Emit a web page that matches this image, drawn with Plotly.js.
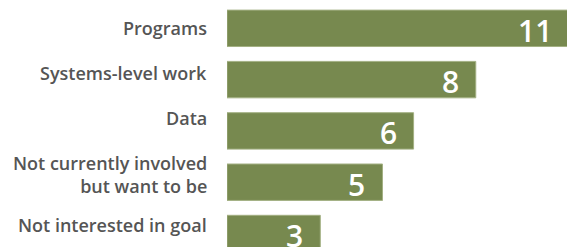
<!DOCTYPE html>
<html>
<head>
<meta charset="utf-8">
<script src="https://cdn.plot.ly/plotly-3.0.1.min.js"></script>
<style>html,body{margin:0;padding:0;background:#fff;overflow:hidden;}#chart{width:570px;height:247px;}</style>
</head>
<body>
<div id="chart"></div>
<script>
var categories = ["Programs", "Systems-level work", "Data", "Not currently involved<br>but want to be", "Not interested in goal"];
var values = [11, 8, 6, 5, 3];
var valueLabels = ["11", "8", "6", "5", "3"];

var barColor = "#77894f";
// per-label vertical nudges (pixels, up) to mimic the reference's label placement
var labelNudge = [0, 7, 13, 8, 9];

var trace = {
  type: "bar",
  orientation: "h",
  y: categories,
  x: values,
  marker: { color: barColor, line: { color: "#a3b083", width: 1 } },
  hoverinfo: "none",
  cliponaxis: true
};

var annotations = values.map(function (v, i) {
  return {
    x: v, y: categories[i], xref: "x", yref: "y",
    text: valueLabels[i], showarrow: false,
    xanchor: "right", yanchor: "middle", xshift: -15, yshift: -2,
    font: { family: "Open Sans", size: 30, color: "#ffffff", weight: 600 }
  };
});
categories.forEach(function (c, i) {
  annotations.push({
    x: 0, y: c, xref: "paper", yref: "y",
    text: c, showarrow: false, align: "right",
    xanchor: "right", yanchor: "middle", xshift: -18, yshift: labelNudge[i],
    font: { family: "Open Sans", size: 18, color: "#555555", weight: 600 }
  });
});

var layout = {
  width: 570, height: 247,
  margin: { l: 227, r: 0, t: 0, b: 0, pad: 0 },
  paper_bgcolor: "#ffffff", plot_bgcolor: "#ffffff",
  showlegend: false,
  bargap: 0.29,
  xaxis: { range: [0, 11.03], visible: false, fixedrange: true },
  yaxis: {
    type: "category",
    range: [4.263, -0.552],
    showgrid: false, zeroline: false, showline: false,
    showticklabels: false, ticks: "",
    fixedrange: true
  },
  annotations: annotations
};

Plotly.newPlot("chart", [trace], layout, { displayModeBar: false, staticPlot: true });
</script>
</body>
</html>
